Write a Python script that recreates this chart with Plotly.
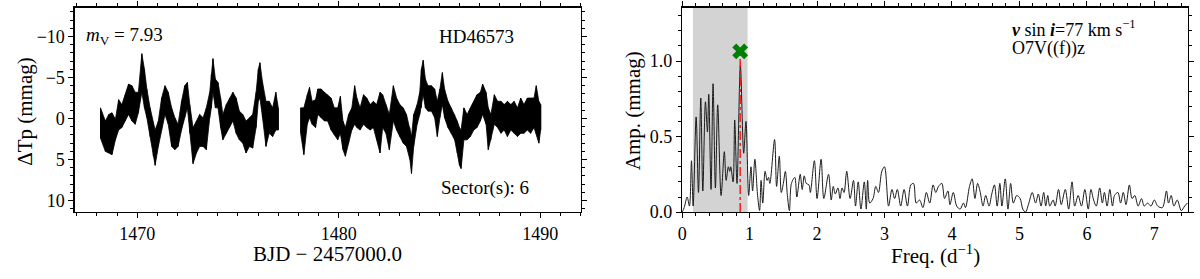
import plotly.graph_objects as go

# ---------------- data ----------------
# Light curve: time (BJD-2457000), upper envelope (brightest, mmag), lower envelope (faintest, mmag)
lc_time = [1468.18, 1468.42, 1468.59, 1468.75, 1468.92, 1469.08, 1469.24, 1469.41, 1469.57, 1469.74,
           1469.90, 1470.06, 1470.23, 1470.36, 1470.48, 1470.64, 1470.80, 1470.89, 1471.05, 1471.21,
           1471.38, 1471.54, 1471.71, 1471.87, 1472.03, 1472.20, 1472.36, 1472.49, 1472.61, 1472.77,
           1472.94, 1473.10, 1473.27, 1473.43, 1473.60, 1473.68, 1473.76, 1473.88, 1474.01, 1474.14,
           1474.25, 1474.42, 1474.58, 1474.75, 1474.91, 1475.07, 1475.24, 1475.40, 1475.57, 1475.73,
           1475.90, 1476.01, 1476.09, 1476.22, 1476.39, 1476.55, 1476.72, 1476.88, 1477.00,
           1478.11, 1478.27, 1478.44, 1478.55, 1478.68, 1478.85, 1478.96, 1479.13, 1479.29, 1479.45,
           1479.62, 1479.78, 1479.95, 1480.08, 1480.21, 1480.33, 1480.49, 1480.65, 1480.79, 1480.90,
           1481.06, 1481.23, 1481.39, 1481.56, 1481.72, 1481.88, 1482.05, 1482.18, 1482.34, 1482.51,
           1482.71, 1482.87, 1483.03, 1483.20, 1483.36, 1483.53, 1483.61, 1483.72, 1483.89, 1484.02,
           1484.10, 1484.19, 1484.30, 1484.43, 1484.60, 1484.76, 1484.89, 1485.02, 1485.14, 1485.25,
           1485.42, 1485.58, 1485.75, 1485.88, 1485.99, 1486.07, 1486.21, 1486.37, 1486.53, 1486.70,
           1486.86, 1487.03, 1487.14, 1487.31, 1487.42, 1487.55, 1487.72, 1487.88, 1488.05, 1488.21,
           1488.37, 1488.54, 1488.70, 1488.87, 1489.03, 1489.19, 1489.36, 1489.52, 1489.69, 1489.80,
           1489.93, 1490.02]
lc_top = [-1.3, 0.3, -0.5, -0.7, 0.1, -2.3, -1.7, -2.9, -4.2, -4.0,
          -3.2, -3.2, -7.9, -6.0, -3.6, -1.3, 0.7, 1.4, 0.3, -2.5,
          -4.0, -3.2, -1.3, -0.1, 0.7, -2.1, -4.0, -4.4, -1.7, 1.1,
          0.3, -0.5, -0.1, -1.3, -3.2, -5.4, -7.3, -4.8, -4.4, -2.5,
          -0.5, -1.7, -2.5, -3.2, -2.5, -0.9, -0.5, 0.3, -0.1, -0.5,
          -3.2, -6.0, -6.8, -4.4, -2.1, -2.1, -1.3, -3.2, -1.3,
          -1.3, -1.3, -2.9, -3.8, -2.1, -2.3, -3.6, -3.6, -3.2, -2.9,
          -2.5, -1.3, -1.3, -2.7, 0.3, 1.1, -0.5, -1.3, -4.0, -2.5,
          -1.3, -2.9, -2.5, -1.7, -2.1, -1.7, -3.2, -2.9, -1.7, -0.5,
          -4.0, -2.5, -1.7, -1.3, -0.5, 1.1, 2.2, -0.5, -1.7, -3.2,
          -6.0, -7.1, -4.8, -4.0, -4.0, -3.6, -2.1, -3.6, -5.6, -3.6,
          -2.1, -1.3, -0.5, 0.3, 1.1, 1.4, -1.3, -0.5, -1.3, -2.1,
          -2.9, -3.2, -4.2, -3.2, -1.3, -0.5, -2.9, -2.1, -2.1, -1.7,
          -2.1, -1.7, -2.1, -1.3, -2.5, -1.7, -2.5, -2.5, -2.5, -4.0,
          -2.1, -1.7]
lc_bot = [2.4, 4.0, 4.2, 4.4, 2.6, 1.4, 1.1, 0.3, -0.5, 0.3,
          0.7, -0.7, -3.2, -1.3, -0.1, 2.2, 4.6, 5.7, 3.4, 1.4,
          -0.5, 0.7, 3.4, 3.8, 3.4, 1.4, -0.1, -1.3, 1.8, 5.5,
          4.2, 3.4, 3.4, 3.8, -0.1, -1.3, -3.2, -1.3, -1.3, 1.1,
          2.6, 1.8, 1.1, 0.3, 1.8, 2.6, 3.0, 4.2, 3.4, 3.6,
          1.1, -2.1, -2.5, -0.1, 3.4, 1.8, 2.2, 1.4, 1.4,
          1.8, 4.4, 0.7, -0.1, 0.7, 1.1, -0.5, -0.1, 0.3, 0.3,
          1.4, 2.0, 2.6, 1.8, 3.8, 4.6, 3.0, 1.4, 0.7, 1.1,
          1.4, 0.7, 1.1, 1.4, 1.1, 2.6, 4.2, 1.1, 1.8, 3.8,
          0.3, 1.4, 2.2, 3.0, 3.4, 5.0, 6.7, 3.4, 0.7, -0.5,
          -1.3, -2.9, -1.3, -0.9, -0.9, -0.1, 2.2, -0.1, -1.7, -0.1,
          1.1, 1.8, 2.6, 4.2, 5.7, 6.1, 2.6, 2.6, 2.2, 1.4,
          1.1, 0.3, -0.5, 0.7, 3.8, 2.6, 0.7, 1.1, 1.8, 1.4,
          2.2, 1.4, 1.8, 2.2, 1.8, 1.8, 1.4, 1.8, 1.1, 1.8,
          3.0, 1.4]

# Amplitude spectrum
freq = [0.00, 0.03, 0.074, 0.108, 0.138, 0.163, 0.207, 0.242, 0.276, 0.306,
        0.345, 0.375, 0.394, 0.428, 0.458, 0.493, 0.527, 0.577, 0.625, 0.652,
        0.685, 0.705, 0.72, 0.755, 0.779, 0.813, 0.863, 0.912, 0.946, 0.986,
        1.02, 1.044, 1.078, 1.118, 1.148, 1.17, 1.195, 1.23, 1.26, 1.28,
        1.30, 1.37, 1.40, 1.44, 1.47, 1.50, 1.53, 1.56, 1.59, 1.62,
        1.67, 1.70, 1.75, 1.78, 1.81, 1.84, 1.88, 1.90, 1.96, 2.00,
        2.06, 2.10, 2.17, 2.21, 2.24, 2.27, 2.31, 2.34, 2.37, 2.40,
        2.44, 2.49, 2.54, 2.57, 2.61, 2.65, 2.70, 2.73, 2.75, 2.78,
        2.83, 2.87, 2.91, 2.96, 3.00, 3.06, 3.11, 3.15, 3.19, 3.24,
        3.29, 3.34, 3.39, 3.43, 3.47, 3.52, 3.57, 3.62, 3.67, 3.72,
        3.76, 3.80, 3.85, 3.89, 3.94, 3.97, 4.02, 4.07, 4.12, 4.17,
        4.20, 4.26, 4.30, 4.34, 4.38, 4.42, 4.46, 4.50, 4.55, 4.59,
        4.63, 4.67, 4.71, 4.74, 4.79, 4.83, 4.87, 4.91, 4.96, 5.01,
        5.05, 5.09, 5.14, 5.19, 5.24, 5.28, 5.32, 5.36, 5.39, 5.42,
        5.45, 5.50, 5.53, 5.58, 5.62, 5.68, 5.73, 5.78, 5.82, 5.87,
        5.92, 5.97, 6.02, 6.06, 6.10, 6.14, 6.19, 6.23, 6.26, 6.30,
        6.34, 6.38, 6.41, 6.46, 6.50, 6.54, 6.58, 6.63, 6.67, 6.71,
        6.76, 6.81, 6.85, 6.90, 6.95, 7.00, 7.05, 7.12, 7.18, 7.21,
        7.25, 7.29, 7.34, 7.40, 7.45, 7.49]
amp = [0.00, 0.03, 0.10, 0.04, 0.34, 0.04, 0.63, 0.13, 0.755, 0.14,
       0.73, 0.53, 0.78, 0.15, 0.85, 0.16, 0.71, 0.11, 0.40, 0.21,
       0.30, 0.27, 0.30, 0.20, 0.61, 0.19, 0.97, 0.39, 0.60, 0.11,
       0.30, 0.14, 0.35, 0.11, 0.01, 0.21, 0.06, 0.27, 0.21, 0.23,
       0.19, 0.48, 0.17, 0.37, 0.13, 0.19, 0.27, 0.11, 0.01, 0.19,
       0.23, 0.10, 0.25, 0.15, 0.24, 0.19, 0.18, 0.13, 0.34, 0.09,
       0.35, 0.09, 0.25, 0.08, 0.17, 0.12, 0.16, 0.09, 0.16, 0.13,
       0.27, 0.09, 0.21, 0.04, 0.20, 0.02, 0.20, 0.02, 0.21, 0.06,
       0.09, 0.17, 0.13, 0.27, 0.30, 0.04, 0.15, 0.09, 0.15, 0.04,
       0.15, 0.04, 0.18, 0.19, 0.06, 0.08, 0.03, 0.13, 0.06, 0.18,
       0.13, 0.17, 0.19, 0.09, 0.14, 0.05, 0.13, 0.04, 0.02, 0.06,
       0.03, 0.17, 0.22, 0.09, 0.19, 0.13, 0.04, 0.11, 0.04, 0.12,
       0.18, 0.04, 0.19, 0.04, 0.22, 0.02, 0.19, 0.06, 0.11, 0.09,
       0.02, 0.00, 0.06, 0.13, 0.06, 0.12, 0.04, 0.13, 0.04, 0.11,
       0.04, 0.08, 0.04, 0.15, 0.05, 0.15, 0.02, 0.20, 0.04, 0.11,
       0.04, 0.15, 0.02, 0.15, 0.08, 0.04, 0.16, 0.06, 0.13, 0.04,
       0.15, 0.04, 0.11, 0.13, 0.06, 0.13, 0.05, 0.18, 0.09, 0.11,
       0.04, 0.09, 0.04, 0.06, 0.04, 0.08, 0.04, 0.03, 0.14, 0.06,
       0.11, 0.04, 0.08, 0.01, 0.04, 0.06]

shade_band = [0.16, 0.97]      # shaded frequency interval (d^-1)
peak_freq = [0.86]             # dominant frequency
peak_marker_amp = [1.064]      # amplitude of the green cross

lc_xticks = [1470, 1480, 1490]
lc_yticks = [-10, -5, 0, 5, 10]
ft_xticks = [0, 1, 2, 3, 4, 5, 6, 7]
ft_yticks = [0.0, 0.5, 1.0]

# ---------------- figure ----------------
W, H = 1200, 279
SERIF = "Liberation Serif, Times New Roman, serif"

def px_x(p):
    return p / W

def px_y(p):
    return 1 - p / H

fig = go.Figure()

# split light curve into contiguous segments (gap > 0.5 d)
segments = []
cur = []
prev = None
for t, a, b in zip(lc_time, lc_top, lc_bot):
    if prev is not None and t - prev > 0.5:
        segments.append(cur)
        cur = []
    cur.append((t, a, b))
    prev = t
segments.append(cur)

for seg in segments:
    ts = [p[0] for p in seg]
    tops = [p[1] for p in seg]
    bots = [p[2] for p in seg]
    # filled envelope band (dense cloud of points)
    fig.add_trace(go.Scatter(x=ts + ts[::-1], y=tops + bots[::-1], mode="lines", fill="toself",
                             fillcolor="black", line=dict(color="black", width=0.8),
                             xaxis="x", yaxis="y", showlegend=False, hoverinfo="skip"))
    # vertical strokes at each sampled time
    zx, zy = [], []
    for t, a, b in seg:
        zx += [t, t, None]
        zy += [a, b, None]
    fig.add_trace(go.Scatter(x=zx, y=zy, mode="lines", line=dict(color="black", width=1.0),
                             xaxis="x", yaxis="y", showlegend=False, hoverinfo="skip",
                             connectgaps=False))

# periodogram
fig.add_trace(go.Scatter(x=freq, y=amp, mode="lines",
                         line=dict(color="#1a1a1a", width=1, shape="spline", smoothing=0.9),
                         xaxis="x2", yaxis="y2", showlegend=False))

# red dash-dot line at peak frequency
fig.add_trace(go.Scatter(x=[peak_freq[0], peak_freq[0]], y=[0, peak_marker_amp[0]], mode="lines",
                         line=dict(color="red", width=1.3, dash="dashdot"),
                         xaxis="x2", yaxis="y2", showlegend=False))
# green cross
fig.add_trace(go.Scatter(x=peak_freq, y=peak_marker_amp, mode="markers",
                         marker=dict(symbol="x", size=14, color="green", line=dict(width=0)),
                         xaxis="x2", yaxis="y2", showlegend=False))

# shaded band
fig.add_shape(type="rect", xref="x2", yref="y2 domain", x0=shade_band[0], x1=shade_band[1],
              y0=0, y1=1, fillcolor="#d3d3d3", line=dict(width=0), layer="below")

tickfont = dict(family=SERIF, size=18, color="black")
def axis_style():
    return dict(showgrid=False, zeroline=False, showline=True, linecolor="black", linewidth=1.3,
                mirror="allticks", ticks="outside", ticklen=5, tickwidth=1, tickcolor="black",
                tickfont=dict(tickfont))

ydom = [px_y(220), px_y(8)]

fig.update_layout(
    width=W, height=H,
    margin=dict(l=0, r=0, t=0, b=0),
    font=dict(family=SERIF, size=18, color="black"),
    paper_bgcolor="white", plot_bgcolor="white",
    xaxis=dict(domain=[px_x(70), px_x(578)], range=[1466.9, 1492.0], tickvals=lc_xticks,
               minor=dict(ticks="outside", ticklen=3, dtick=1, tick0=1470, tickcolor="black"),
               anchor="y", **axis_style()),
    yaxis=dict(domain=ydom, range=[11.4, -13.5], tickvals=lc_yticks,
               minor=dict(ticks="outside", ticklen=3, dtick=1, tick0=0, tickcolor="black"),
               anchor="x", **axis_style()),
    xaxis2=dict(domain=[px_x(680), px_x(1188)], range=[0, 7.5], tickvals=ft_xticks,
                minor=dict(ticks="outside", ticklen=3, dtick=0.2, tick0=0, tickcolor="black"),
                anchor="y2", **axis_style()),
    yaxis2=dict(domain=ydom, range=[0, 1.353], tickvals=ft_yticks, tickformat=".1f",
                minor=dict(ticks="outside", ticklen=3, dtick=0.1, tick0=0, tickcolor="black"),
                anchor="x2", **axis_style()),
)

labfont = dict(family=SERIF, size=21, color="black")
annots = [
    dict(text="BJD − 2457000.0", x=px_x(324), y=px_y(263), xanchor="center", yanchor="middle", font=labfont),
    dict(text="Freq. (d<sup>−1</sup>)", x=px_x(934), y=px_y(264), xanchor="center", yanchor="middle", font=labfont),
    dict(text="ΔTp (mmag)", x=px_x(20), y=px_y(115), xanchor="center", yanchor="middle", textangle=-90, font=labfont),
    dict(text="Amp. (mmag)", x=px_x(631), y=px_y(115), xanchor="center", yanchor="middle", textangle=-90, font=labfont),
    dict(text="<i>m</i><sub>V</sub> = 7.93", x=px_x(79), y=px_y(37), xanchor="left", yanchor="middle",
         font=dict(family=SERIF, size=19, color="black")),
    dict(text="HD46573", x=px_x(434), y=px_y(38), xanchor="left", yanchor="middle",
         font=dict(family=SERIF, size=19, color="black")),
    dict(text="Sector(s): 6", x=px_x(436), y=px_y(195), xanchor="left", yanchor="middle",
         font=dict(family=SERIF, size=19, color="black")),
    dict(text="<b><i>v</i></b> sin <b><i>i</i></b>=77 km s<sup>−1</sup>", x=px_x(1009), y=px_y(30),
         xanchor="left", yanchor="middle", font=dict(family=SERIF, size=18, color="black")),
    dict(text="O7V((f))z", x=px_x(1009), y=px_y(50), xanchor="left", yanchor="middle",
         font=dict(family=SERIF, size=18, color="black")),
]
for a in annots:
    a.update(xref="paper", yref="paper", showarrow=False)
fig.update_layout(annotations=annots)

# remove the browser's default page margin so the figure sits at the window origin
fig.write_html("out.html",
               config={"displayModeBar": False, "staticPlot": True},
               post_script="document.body.style.margin='0';document.body.style.overflow='hidden';")
